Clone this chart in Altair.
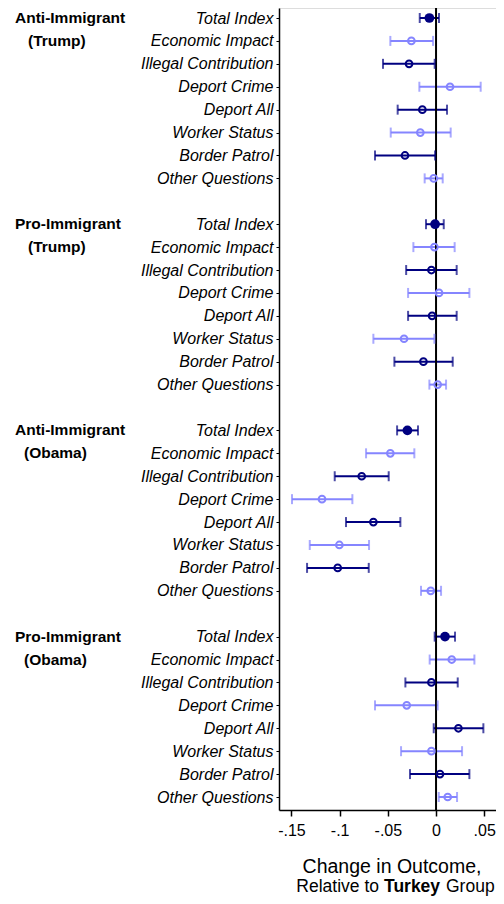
import altair as alt
import pandas as pd

items = ["Total Index", "Economic Impact", "Illegal Contribution", "Deport Crime",
         "Deport All", "Worker Status", "Border Patrol", "Other Questions"]
group_line1 = ["Anti-Immigrant", "Pro-Immigrant", "Anti-Immigrant", "Pro-Immigrant"]
group_line2 = ["(Trump)", "(Trump)", "(Obama)", "(Obama)"]

est_anti_trump = [-0.0069, -0.0256, -0.028, 0.0145, -0.0142, -0.0163, -0.0322, -0.0024]
lo_anti_trump = [-0.0169, -0.0474, -0.055, -0.0173, -0.0398, -0.047, -0.0633, -0.0118]
hi_anti_trump = [0.0031, -0.0031, -0.0014, 0.0463, 0.0114, 0.0152, -0.001, 0.0069]

est_pro_trump = [-0.001, -0.0017, -0.0048, 0.0031, -0.0041, -0.0332, -0.0131, 0.0017]
lo_pro_trump = [-0.0104, -0.0235, -0.031, -0.029, -0.029, -0.065, -0.0432, -0.0069]
hi_pro_trump = [0.008, 0.0193, 0.0214, 0.0346, 0.0214, -0.0017, 0.0173, 0.0104]

est_anti_obama = [-0.0297, -0.0474, -0.0771, -0.1183, -0.065, -0.1003, -0.102, -0.0055]
lo_anti_obama = [-0.0404, -0.0726, -0.1051, -0.1494, -0.0934, -0.131, -0.1338, -0.0156]
hi_anti_obama = [-0.0187, -0.0225, -0.0491, -0.0868, -0.037, -0.0695, -0.0698, 0.0052]

est_pro_obama = [0.0093, 0.0163, -0.0048, -0.0304, 0.0232, -0.0048, 0.0041, 0.0121]
lo_pro_obama = [-0.0014, -0.0066, -0.0318, -0.0633, -0.0024, -0.0363, -0.027, 0.0028]
hi_pro_obama = [0.0197, 0.0398, 0.0225, 0.0017, 0.0491, 0.027, 0.0346, 0.0218]

tick_values = [-0.15, -0.1, -0.05, 0, 0.05]
tick_labels = ["-.15", "-.1", "-.05", "0", ".05"]

NAVY = "#000080"
LIGHT = "#8585ff"
FONT = "Liberation Sans"

ests = [est_anti_trump, est_pro_trump, est_anti_obama, est_pro_obama]
los = [lo_anti_trump, lo_pro_trump, lo_anti_obama, lo_pro_obama]
his = [hi_anti_trump, hi_pro_trump, hi_anti_obama, hi_pro_obama]

rows = []
for g in range(4):
    for i, name in enumerate(items):
        rows.append({
            "row": g * 9 + i,
            "item": name,
            "est": ests[g][i],
            "lo": los[g][i],
            "hi": his[g][i],
            "shade": "dark" if i % 2 == 0 else "light",
            "total": i == 0,
        })
df = pd.DataFrame(rows)

line1_df = pd.DataFrame({"row": [g * 9 for g in range(4)], "txt": group_line1})
trump_df = pd.DataFrame({"row": [g * 9 + 1 for g in range(2)], "txt": group_line2[:2]})
obama_df = pd.DataFrame({"row": [g * 9 + 1 for g in range(2, 4)], "txt": group_line2[2:]})

W, H = 217, 802
xscale = alt.Scale(domain=[-0.1629, 0.0622], nice=False, zero=False)
yscale = alt.Scale(domain=[-0.4365, 34.567], nice=False, zero=False, reverse=True)
cscale = alt.Scale(domain=["dark", "light"], range=[NAVY, LIGHT])

label_expr_x = ""
for v, l in zip(tick_values, tick_labels):
    label_expr_x += f"abs(datum.value - ({v})) < 0.001 ? '{l}' : "
label_expr_x += "''"
items_js = "[" + ",".join(f"'{s}'" for s in items) + "]"

xaxis = alt.Axis(values=tick_values, labelExpr=label_expr_x, title=None, grid=False,
                 tickSize=6, tickWidth=1.5, tickColor="black", domainColor="black",
                 domainWidth=1.5, labelFontSize=16, labelColor="black",
                 labelPadding=6, labelFont=FONT, orient="bottom", labelOverlap=False)
yaxis = alt.Axis(values=[r["row"] for r in rows], labelExpr=f"{items_js}[datum.value % 9]",
                 title=None, grid=False, tickSize=3, tickColor="black", tickWidth=1,
                 domainColor="black", domainWidth=1.5, labelFontSize=16,
                 labelFontStyle="italic", labelColor="black", labelPadding=3,
                 labelFont=FONT, orient="left", labelOverlap=False)


def X(field):
    return alt.X(field, scale=xscale, axis=xaxis, title=None)


def Y(field="row:Q"):
    return alt.Y(field, scale=yscale, axis=yaxis, title=None)


color = alt.Color("shade:N", scale=cscale, legend=None)
base = alt.Chart(df)

rules = base.mark_rule(strokeWidth=2).encode(x=X("lo:Q"), x2="hi:Q", y=Y(), color=color)

caps = base.transform_fold(["lo", "hi"], as_=["which", "xv"]).mark_tick(
    orient="vertical", size=10, thickness=2
).encode(x=X("xv:Q"), y=Y(), color=color)

open_pts = base.transform_filter("!datum.total").mark_point(
    shape="circle", filled=False, size=45, strokeWidth=2, opacity=1
).encode(x=X("est:Q"), y=Y(), color=color)

filled_pts = base.transform_filter("datum.total").mark_circle(size=95, opacity=1).encode(
    x=X("est:Q"), y=Y(), color=color
)

zero = alt.Chart(pd.DataFrame({"z": [0]})).mark_rule(color="black", strokeWidth=2).encode(
    x=X("z:Q")
)


def glab(d, xpos):
    return alt.Chart(d).mark_text(
        align="left", baseline="middle", fontSize=15.5, fontWeight="bold", font=FONT, color="black"
    ).encode(x=alt.value(xpos), y=Y(), text="txt:N")


def ann(text, x, y, align, size, weight="normal"):
    return alt.Chart(pd.DataFrame({"t": [text]})).mark_text(
        align=align, baseline="middle", fontSize=size, fontWeight=weight, font=FONT, color="black"
    ).encode(x=alt.value(x), y=alt.value(y), text="t:N")


title1 = ann("Change in Outcome,", 113, 859, "center", 19.5)
title2a = ann("Relative to", 100, 879, "right", 17.5)
title2b = ann("Turkey", 105, 879, "left", 17.5, "bold")
title2c = ann("Group", 167, 879, "left", 17.5)

chart = alt.layer(
    rules, zero, caps, open_pts, filled_pts,
    glab(line1_df, -264), glab(trump_df, -251), glab(obama_df, -255),
    title1, title2a, title2b, title2c
).properties(
    width=W, height=H,
    autosize=alt.AutoSizeParams(type="none"),
    padding={"left": 271, "top": 0, "right": 0, "bottom": 86},
).configure_view(stroke=None).configure(font=FONT).configure_axis(grid=False)

chart.save("out.html", embed_options={"renderer": "svg", "actions": False})
